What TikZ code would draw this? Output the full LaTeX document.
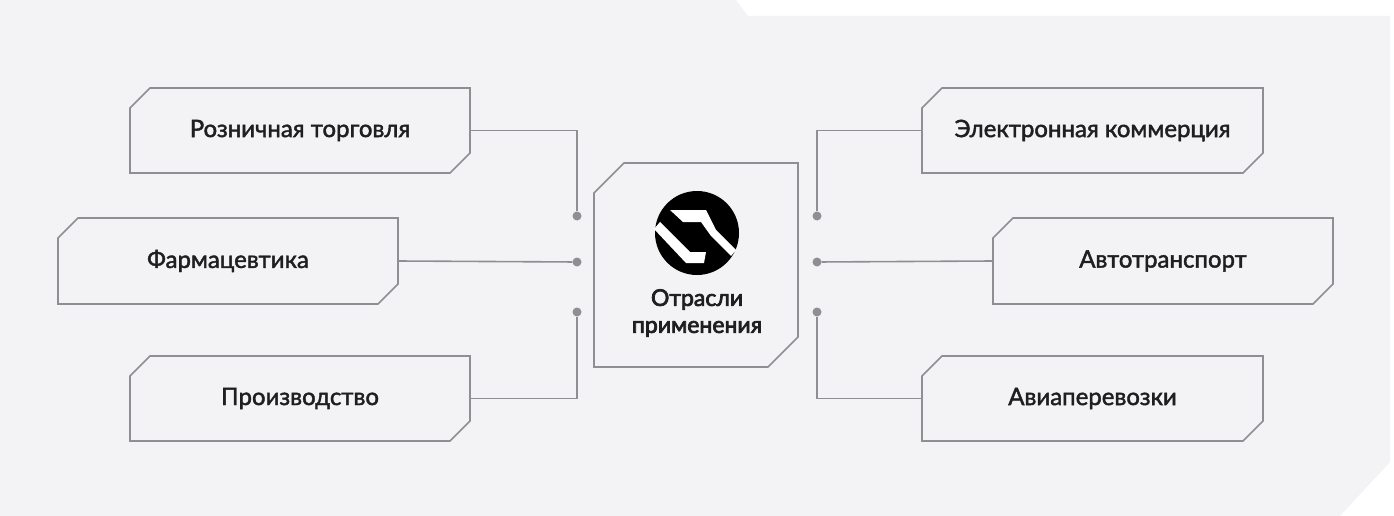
\documentclass[tikz,border=0pt]{standalone}
\usepackage{fontspec}
\setmainfont{Lato}
\newfontfamily\medfont[FakeBold=1.8]{Lato}
\newfontfamily\heavyfont[FakeBold=3.2]{Lato}
\usetikzlibrary{positioning}
\definecolor{bg}{HTML}{F3F3F5}
\definecolor{edge}{HTML}{8E8E93}
\tikzset{
	card/.style={draw=edge, line width=1.6pt, fill=bg},
	wire/.style={draw=edge, line width=1.6pt},
	label/.style={font=\medfont\fontsize{24}{28}\selectfont, text=black!88},
	pin/.style={circle, fill=edge, inner sep=0pt, minimum size=9pt}
}
\newcommand{\cardat}[5]{% x1,y1,x2,y2,name
	\fill[card] (#1,#3+20) -- (#1+20,#3) -- (#2,#3) -- (#2,#4-20) -- (#2-20,#4) -- (#1,#4) -- cycle;
	\coordinate (#5) at ({(#1+#2)/2},{(#3+#4)/2});
	\coordinate (#5-w) at (#1,{(#3+#4)/2});
	\coordinate (#5-e) at (#2,{(#3+#4)/2});
}
\begin{document}
\begin{tikzpicture}[x=1pt, y=-1pt]
		\useasboundingbox (0,0) rectangle (1394,516);
		\fill[bg] (0,0) -- (736,0) -- (748,16) -- (1390,16) -- (1390,462) -- (1340,516) -- (0,516) -- cycle;
		
		% left side
		\cardat{130}{470}{88}{173}{retail}
		\node[label] at (retail) {Розничная торговля};
		\cardat{58}{398}{218}{304}{pharma}
		\node[label] at (pharma) {Фармацевтика};
		\cardat{130}{470}{356}{441}{prod}
		\node[label] at (prod) {Производство};
		
		% right side
		\cardat{922}{1263}{88}{173}{ecom}
		\node[label] at (ecom) {Электронная коммерция};
		\cardat{993}{1333}{218}{304}{auto}
		\node[label] at (auto) {Автотранспорт};
		\cardat{922}{1263}{356}{441}{avia}
		\node[label] at (avia) {Авиаперевозки};
		
		% centre
		\fill[card] (594,193) -- (624,163) -- (798,163) -- (798,337) -- (768,367) -- (594,367) -- cycle;
		\fill[black] (697,233) circle (42);
		\fill[white] (670,210) -- (706,210) -- (716,230) -- (736,250) -- (731,256) -- (711,236) -- (701,222) -- (683,222) -- cycle;
		\fill[white] (654,229) -- (660,222) -- (690,252) -- (706,252) -- (704,263) -- (686,263) -- cycle;
		\node[font=\heavyfont\fontsize{23}{27}\selectfont, text=black!88, align=center] (title) at (697,313) {Отрасли\\применения};
		
		% pins
		\node[pin] (pl1) at (577,216) {};
		\node[pin] (pl2) at (577,262) {};
		\node[pin] (pl3) at (577,312) {};
		\node[pin] (pr1) at (817,216) {};
		\node[pin] (pr2) at (817,262) {};
		\node[pin] (pr3) at (817,312) {};
		
		\draw[wire] (retail-e) -| (pl1);
		\draw[wire] (pharma-e) -- (pl2);
		\draw[wire] (prod-e)   -| (pl3);
		\draw[wire] (ecom-w)   -| (pr1);
		\draw[wire] (auto-w)   -- (pr2);
		\draw[wire] (avia-w)   -| (pr3);
	\end{tikzpicture}
\end{document}
